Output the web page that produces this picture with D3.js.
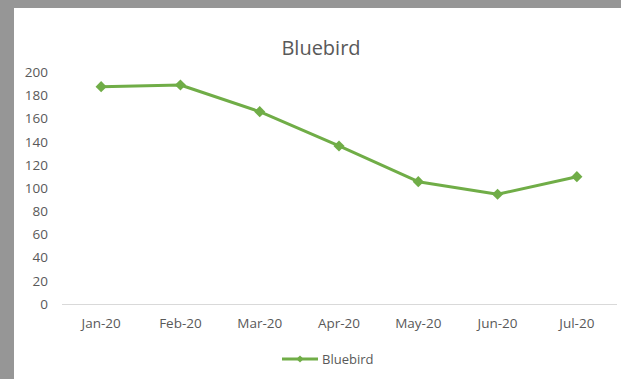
<!DOCTYPE html>
<html>
<head>
<meta charset="utf-8">
<script src="https://cdn.jsdelivr.net/npm/d3@7"></script>
<style>
  html, body { margin: 0; padding: 0; background: #969696; }
  svg { display: block; }
</style>
</head>
<body>
<svg id="chart" width="621" height="379"></svg>
<script>
// Monthly series
const categories = ["Jan-20", "Feb-20", "Mar-20", "Apr-20", "May-20", "Jun-20", "Jul-20"];
const bluebird = [187.6, 189, 166, 136.4, 105.6, 94.7, 109.9];
const yTicks = [0, 20, 40, 60, 80, 100, 120, 140, 160, 180, 200];
const seriesName = "Bluebird";
const chartTitle = "Bluebird";

const W = 621, H = 379;
const lineColor = "#70AD47";
const textColor = "#595959";
const font = "'Open Sans', 'Noto Sans', sans-serif";

const svg = d3.select("#chart");

// grey frame on top and left, white chart area
svg.append("rect").attr("x", 0).attr("y", 0).attr("width", W).attr("height", H).attr("fill", "#969696");
svg.append("rect").attr("x", 14).attr("y", 8).attr("width", W - 14).attr("height", H - 8).attr("fill", "#ffffff");

const plot = { left: 61.5, right: 616.5, top: 72.3, bottom: 304 };

const x = d3.scaleBand().domain(categories).range([plot.left, plot.right]);
const y = d3.scaleLinear().domain([0, 200]).range([plot.bottom, plot.top]);

// title
svg.append("text")
  .attr("x", 321).attr("y", 55)
  .attr("text-anchor", "middle")
  .attr("font-family", font).attr("font-size", 20)
  .attr("fill", textColor)
  .text(chartTitle);

// y axis labels (no axis line)
const yAxis = d3.axisLeft(y).tickValues(yTicks).tickSize(0).tickPadding(0);
const gy = svg.append("g").attr("transform", "translate(48,0)").call(yAxis);
gy.select(".domain").remove();
gy.selectAll("text")
  .attr("font-family", font).attr("font-size", 13.5)
  .attr("fill", textColor);

// x axis
const xAxis = d3.axisBottom(x).tickSize(0).tickPadding(14);
const gx = svg.append("g").attr("transform", `translate(0,${plot.bottom})`).call(xAxis);
gx.select(".domain").attr("stroke", "#d9d9d9").attr("stroke-width", 1.2);
gx.selectAll("text")
  .attr("font-family", font).attr("font-size", 13.5)
  .attr("fill", textColor);

// series line
const pts = categories.map((c, i) => ({ c, v: bluebird[i] }));
const line = d3.line().x(d => x(d.c) + x.bandwidth() / 2).y(d => y(d.v));
svg.append("path")
  .datum(pts)
  .attr("d", line)
  .attr("fill", "none")
  .attr("stroke", lineColor)
  .attr("stroke-width", 3)
  .attr("stroke-linejoin", "round");

// diamond markers
const diamond = d3.symbol().type(d3.symbolSquare).size(62);
svg.append("g").selectAll("path")
  .data(pts)
  .join("path")
  .attr("d", diamond)
  .attr("transform", d => `translate(${x(d.c) + x.bandwidth() / 2},${y(d.v)}) rotate(45)`)
  .attr("fill", lineColor);

// legend
const lg = svg.append("g").attr("transform", "translate(282,359)");
lg.append("line").attr("x1", 0).attr("x2", 36).attr("y1", 0).attr("y2", 0)
  .attr("stroke", lineColor).attr("stroke-width", 3);
lg.append("path")
  .attr("d", d3.symbol().type(d3.symbolSquare).size(26)())
  .attr("transform", "translate(18,0) rotate(45)")
  .attr("fill", lineColor);
lg.append("text")
  .attr("x", 40).attr("y", 0).attr("dy", "0.35em")
  .attr("font-family", font).attr("font-size", 13)
  .attr("fill", textColor)
  .text(seriesName);
</script>
</body>
</html>
